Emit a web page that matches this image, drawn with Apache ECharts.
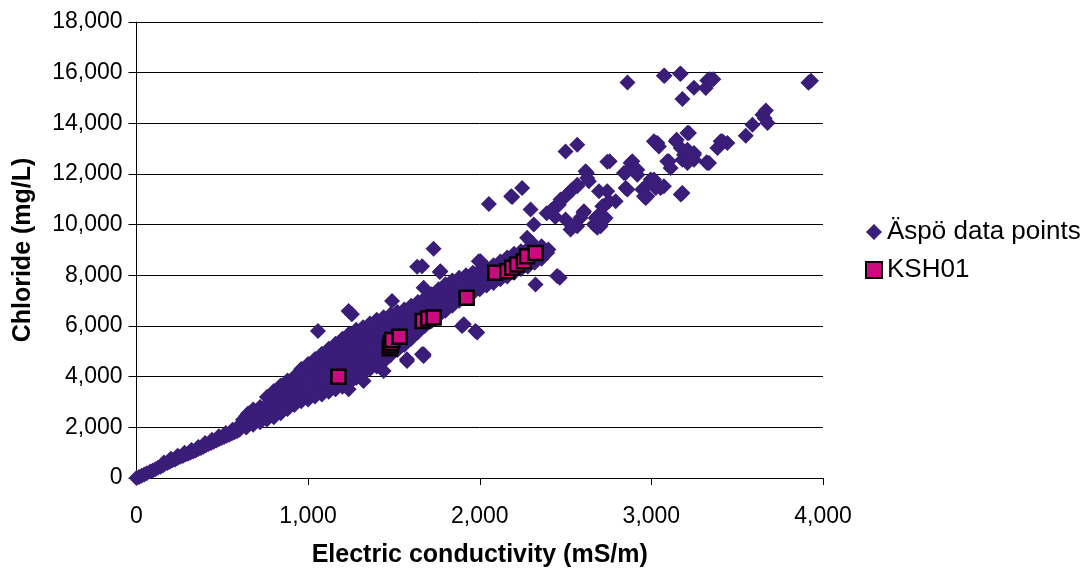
<!DOCTYPE html>
<html>
<head>
<meta charset="utf-8">
<script src="https://cdn.jsdelivr.net/npm/echarts@6/dist/echarts.min.js"></script>
<style>
html,body{margin:0;padding:0;background:#fff;}
#chart{width:1090px;height:573px;}
</style>
</head>
<body>
<div id="chart"></div>
<script>
// Axis ticks
const xTicks = [0, 1000, 2000, 3000, 4000];
const yTicks = [0, 2000, 4000, 6000, 8000, 10000, 12000, 14000, 16000, 18000];
const seriesNames = ['Äspö data points', 'KSH01'];

// Äspö: low-conductivity single-file part [EC, Cl]
const aspoLow = [
  [0,0],[15,40],[30,90],[45,140],[60,190],[80,260],[95,300],[110,350],[125,400],[140,440],
  [155,500],[160,610],[165,560],[180,590],[195,640],[200,760],[210,700],[225,730],[240,790],[240,880],
  [255,840],[270,870],[280,1000],[285,930],[300,960],[315,1010],[320,1110],[330,1050],[345,1090],[360,1140],
  [360,1220],[375,1180],[390,1230],[400,1380],[405,1290],[420,1340],[435,1380],[440,1510],[450,1430],[465,1480],
  [480,1530],[480,1650],[495,1580],[510,1620],[520,1780],[525,1670],[540,1710],[555,1760],[560,1900],[570,1810],
  [585,1850],[600,1900],[600,2080],[620,2300],[640,2450],[650,2550],[660,2400]
];

// Äspö: dense band, each row = [EC, Cl values...]
const aspoBand = [
  [640,1990,2250],[680,2100,2400,2700],[720,2200,2500,2800],[760,2310,2600,2900,3200],
  [800,2400,2700,3000,3300,3430],[840,2560,2850,3150,3450,3650],[880,2720,3000,3300,3600,3850],
  [920,2880,3150,3450,3750,4000],[960,3030,3300,3600,3900,4150,4300],[1000,3100,3400,3700,4000,4300,4500],
  [1040,3220,3500,3800,4100,4400,4700],[1080,3300,3600,3900,4200,4500,4750,4900],
  [1120,3400,3700,4000,4300,4600,4850,5100],[1160,3500,3800,4100,4400,4700,5000,5300],
  [1200,3600,3900,4200,4500,4800,5100,5350,5500],[1240,3750,4050,4350,4650,4950,5250,5500,5700],
  [1280,3950,4200,4500,4800,5100,5400,5650,5850],[1320,4150,4400,4700,5000,5300,5550,5800,5950],
  [1360,4300,4550,4850,5150,5450,5700,5950,6100],[1400,4400,4700,5000,5300,5600,5850,6100,6250],
  [1440,4600,4900,5200,5500,5800,6050,6350],[1480,4850,5100,5400,5700,6000,6250,6450],
  [1520,5050,5300,5600,5900,6200,6550],[1560,5250,5500,5800,6100,6400,6650],
  [1600,5500,5750,6050,6350,6600,6800],[1640,5750,6000,6300,6600,6950],[1680,6000,6250,6550,6850,7100],
  [1720,6200,6450,6750,7050,7250],[1760,6400,6650,6950,7250,7450],[1800,6600,6850,7150,7450,7650],
  [1840,6800,7050,7350,7600,7800],[1880,7000,7250,7550,7900],[1920,7150,7400,7700,8000],
  [1960,7300,7550,7850,8100],[2000,7450,7700,8000,8200],[2040,7600,7850,8100,8300],
  [2080,7700,7950,8200,8400],[2120,7850,8100,8350,8550],[2160,7950,8200,8450,8700],
  [2200,8100,8350,8600,8850],[2240,8250,8500,8750,8950],[2280,8350,8600,8850,9050],
  [2320,8500,8750,9100],[2360,8650,8900,9150]
];

// Äspö: scattered points around the band
const aspoOutliers = [
  [2053,10820],[2183,11120],[2189,11096],[2247,11450],[2296,10596],[2315,10005],[2422,10596],[2276,9481],
  [2296,9350],[2400,9020],[2393,8890],[2325,7642],[2451,7969],[2466,7905],[1994,8560],[2004,8560],
  [1731,9048],[1635,8340],[1664,8363],[1767,8127],[1771,8166],[1673,7510],[1489,6985],[1236,6590],
  [1255,6460],[1057,5802],[1576,4687],[1673,4884],[1664,4884],[1673,4817],[1897,6000],[1907,6066],
  [1985,5739],[1975,5802],[1236,3506],[1323,3833],[1440,4227],[1576,4620]
];

// Äspö: high-conductivity points
const aspoHigh = [
  [2390,10450],[2432,10660],[2471,10990],[2510,11190],[2440,10300],[2412,10530],[2461,10790],[2500,11120],
  [2529,11320],[2568,11580],[2539,11384],[2500,10200],[2529,9810],[2568,9940],[2558,10000],[2587,10270],
  [2607,10530],[2604,10466],[2665,10005],[2685,9874],[2704,9939],[2675,10266],[2733,10266],[2723,10200],
  [2685,10332],[2714,10726],[2753,10923],[2723,10726],[2695,11317],[2743,11317],[2792,10923],[2850,11450],
  [2860,11384],[2947,11384],[2957,11120],[2976,11120],[2967,11057],[2500,12893],[2568,13156],[2617,12106],
  [2624,12042],[2636,11712],[2626,11843],[2568,11515],[2757,12500],[2743,12480],[2840,12042],[2879,12435],
  [2889,12500],[2850,12042],[2918,11975],[2918,12172],[2996,11778],[2986,11647],[3006,11712],[3054,11450],
  [3025,11450],[3073,11515],[3025,13222],[3035,13222],[3015,13288],[3044,13090],[3142,13288],[3147,13353],
  [3171,13026],[3190,12763],[3210,12960],[3248,12830],[3248,12763],[3219,13617],[3210,13617],[3093,12500],
  [3102,12500],[3112,12238],[3181,12566],[3210,12435],[3219,12566],[3248,12566],[3322,12460],[3336,12435],
  [3326,12435],[3385,13026],[3404,13288],[3414,13288],[3443,13222],[3015,11778],[3181,11254],[3171,11187],
  [3550,13510],[3589,13944],[3647,14338],[3660,14200],[3667,14508],[3677,14010],[2861,15610],[3077,15874],
  [3073,15874],[3171,15953],[3167,15953],[3248,15400],[3326,15690],[3342,15745],[3361,15740],[3317,15390],
  [3181,14956],[3915,15600],[3930,15680]
];

// KSH01 [EC, Cl]
const ksh01 = [
  [1177,4000],[1476,5120],[1480,5230],[1484,5330],[1490,5450],[1533,5580],[1668,6200],[1700,6300],
  [1731,6340],[1924,7120],[2091,8100],[2160,8160],[2189,8300],[2218,8430],[2257,8560],[2276,8750],[2325,8880]
];

const bandPairs = [];
aspoBand.forEach(row => { for (let i = 1; i < row.length; i++) bandPairs.push([row[0], row[i]]); });
const aspoAll = aspoLow.concat(bandPairs, aspoOutliers, aspoHigh);

const FONT = '"Liberation Sans", Arial, sans-serif';
const fmt = v => Number(v).toLocaleString('en-US');

const chart = echarts.init(document.getElementById('chart'), null, {renderer: 'canvas'});
chart.setOption({
  animation: false,
  backgroundColor: '#ffffff',
  textStyle: {fontFamily: FONT},
  grid: {left: 136.5, right: 267, top: 22, bottom: 94, containLabel: false},
  legend: {
    orient: 'vertical',
    left: 860, top: 214,
    itemWidth: 16, itemHeight: 16, itemGap: 12,
    textStyle: {fontFamily: FONT, fontSize: 26, color: '#000', lineHeight: 26},
    data: [
      {name: seriesNames[0], icon: 'diamond'},
      {name: seriesNames[1], icon: 'rect'}
    ]
  },
  xAxis: {
    type: 'value', min: xTicks[0], max: xTicks[xTicks.length - 1], interval: 1000,
    name: 'Electric conductivity (mS/m)', nameLocation: 'middle', nameGap: 65,
    nameTextStyle: {fontFamily: FONT, fontSize: 25, fontWeight: 'bold', color: '#000'},
    axisLine: {show: true, lineStyle: {color: '#000', width: 1}},
    axisTick: {show: true, inside: false, length: 7, lineStyle: {color: '#000'}},
    axisLabel: {fontFamily: FONT, fontSize: 23, color: '#000', margin: 27, formatter: fmt},
    splitLine: {show: false}
  },
  yAxis: {
    type: 'value', min: yTicks[0], max: yTicks[yTicks.length - 1], interval: 2000,
    name: 'Chloride (mg/L)', nameLocation: 'middle', nameGap: 101,
    nameTextStyle: {fontFamily: FONT, fontSize: 25, fontWeight: 'bold', color: '#000'},
    axisLine: {show: true, lineStyle: {color: '#000', width: 1}},
    axisTick: {show: true, inside: false, length: 8, lineStyle: {color: '#000'}},
    axisLabel: {fontFamily: FONT, fontSize: 23, color: '#000', margin: 14, formatter: fmt},
    splitLine: {show: true, lineStyle: {color: '#000', width: 1}}
  },
  series: [
    {
      name: seriesNames[0], type: 'scatter', symbol: 'diamond', symbolSize: 16,
      itemStyle: {color: '#3A1D78', opacity: 1},
      data: aspoAll, z: 2
    },
    {
      name: seriesNames[1], type: 'scatter', symbol: 'rect', symbolSize: 14,
      itemStyle: {color: '#CC0A80', borderColor: '#000', borderWidth: 2.5, opacity: 1},
      data: ksh01, z: 3
    }
  ]
});
</script>
</body>
</html>
